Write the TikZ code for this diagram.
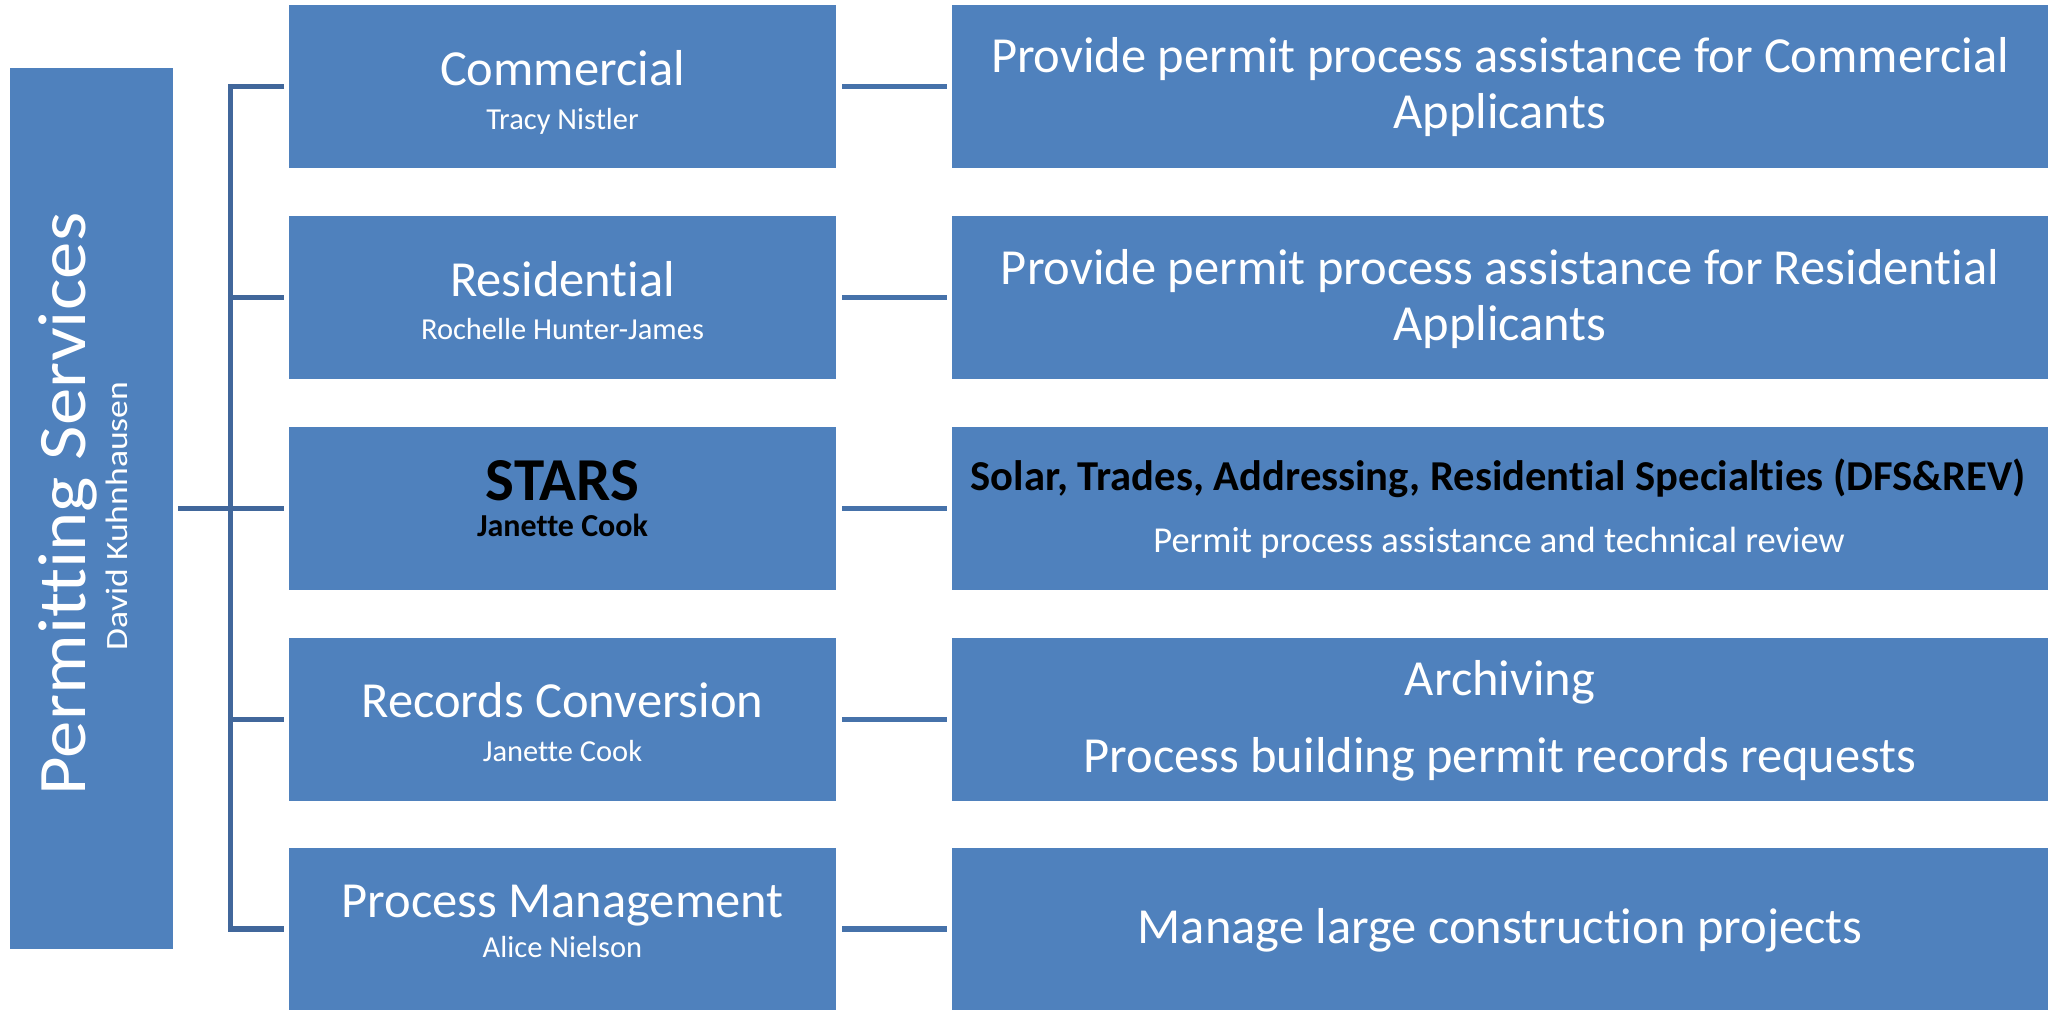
\documentclass[tikz,border=0pt]{standalone}
\usepackage{fontspec}
\setmainfont{Carlito}[Ligatures=NoCommon]
\definecolor{boxblue}{HTML}{4F81BD}
\definecolor{lineblue}{HTML}{41679B}
\definecolor{lineblueb}{HTML}{4672AA}
\begin{document}
\begin{tikzpicture}[x=1pt,y=-1pt]
\tikzset{
  orgbox/.style={fill=boxblue, draw=none, inner sep=0pt, outer sep=0pt, anchor=north west},
  lconn/.style={draw=lineblue, line width=5.5pt},
  rconn/.style={draw=lineblueb, line width=5.5pt},
  ttl/.style={text=white, font=\fontsize{50.5}{55}\selectfont, anchor=base, inner sep=0pt},
  subt/.style={text=white, font=\fontsize{30.5}{36}\selectfont, anchor=base, inner sep=0pt},
  rtxt/.style={text=white, font=\fontsize{50.5}{55.5}\selectfont, anchor=base, inner sep=0pt, align=center},
}
\fill[white] (0,0) rectangle (2059,1010);
\useasboundingbox (0,0) rectangle (2059,1010);

% left box
\node[orgbox, minimum width=163pt, minimum height=881pt] (ps) at (10,68) {};
\node[anchor=base, rotate=90, text=white, inner sep=0pt, font=\fontsize{68}{72}\selectfont] (pst) at (85,504) {\scalebox{1.1}[1]{Permitting Services}};
\node[anchor=base, rotate=90, text=white, inner sep=0pt, font=\fontsize{31}{36}\selectfont] (psn) at (127,516) {\scalebox{1.15}[1]{David Kuhnhausen}};

% middle boxes
\node[orgbox, minimum width=547pt, minimum height=163pt] (c1) at (289,5) {};
\node[orgbox, minimum width=547pt, minimum height=163pt] (c2) at (289,216) {};
\node[orgbox, minimum width=547pt, minimum height=163pt] (c3) at (289,427) {};
\node[orgbox, minimum width=547pt, minimum height=163pt] (c4) at (289,638) {};
\node[orgbox, minimum width=547pt, minimum height=162pt] (c5) at (289,848) {};

% right boxes
\node[orgbox, minimum width=1096pt, minimum height=163pt] (r1) at (952,5) {};
\node[orgbox, minimum width=1096pt, minimum height=163pt] (r2) at (952,216) {};
\node[orgbox, minimum width=1096pt, minimum height=163pt] (r3) at (952,427) {};
\node[orgbox, minimum width=1096pt, minimum height=163pt] (r4) at (952,638) {};
\node[orgbox, minimum width=1096pt, minimum height=162pt] (r5) at (952,848) {};

% middle texts
\node[ttl] (c1t) at (562.5,85) {Commercial};
\node[subt] (c1s) at (562.5,129) {Tracy Nistler};
\node[ttl] (c2t) at (562.5,296) {Residential};
\node[subt] (c2s) at (562.5,339) {Rochelle Hunter-James};
\node[anchor=base, inner sep=0pt, text=black, font=\fontsize{61}{66}\selectfont\bfseries] (c3t) at (562.5,500) {STARS};
\node[anchor=base, inner sep=0pt, text=black, font=\fontsize{32}{36}\selectfont\bfseries] (c3s) at (562.5,536) {Janette Cook};
\node[ttl] (c4t) at (562.5,717) {Records Conversion};
\node[subt] (c4s) at (562.5,761) {Janette Cook};
\node[ttl] (c5t) at (562.5,917) {Process Management};
\node[subt] (c5s) at (562.5,957) {Alice Nielson};

% right texts
\node[rtxt] (r1t) at (1500,128) {Provide permit process assistance for Commercial\\Applicants};
\node[rtxt] (r2t) at (1500,340) {Provide permit process assistance for Residential\\Applicants};
\node[anchor=base, inner sep=0pt, text=black, font=\fontsize{42.6}{46}\selectfont\bfseries] (r3t) at (1498,490) {Solar, Trades, Addressing, Residential Specialties (DFS\&REV)};
\node[anchor=base, inner sep=0pt, text=white, font=\fontsize{36.5}{40}\selectfont] (r3s) at (1499,552) {Permit process assistance and technical review};
\node[rtxt] (r4t) at (1500,695) {Archiving};
\node[rtxt] (r4s) at (1500,772) {Process building permit records requests};
\node[rtxt] (r5t) at (1500,943) {Manage large construction projects};

% connectors
\coordinate (spine) at (230.5,508.5);
\draw[lconn] ([xshift=-5pt]c1.west) -- (spine |- c1.west) -- (spine |- c5.west) -- ([xshift=-5pt]c5.west);
\draw[lconn] (spine |- c2.west) -- ([xshift=-5pt]c2.west);
\draw[lconn] (spine |- c3.west) -- ([xshift=-5pt]c3.west);
\draw[lconn] (spine |- c4.west) -- ([xshift=-5pt]c4.west);
\draw[lconn] ([xshift=5pt]ps.east) -- (spine);
\foreach \i in {1,...,5}{
  \draw[rconn] ([xshift=6pt]c\i.east) -- ([xshift=-5pt]r\i.west);
}
\end{tikzpicture}
\end{document}
